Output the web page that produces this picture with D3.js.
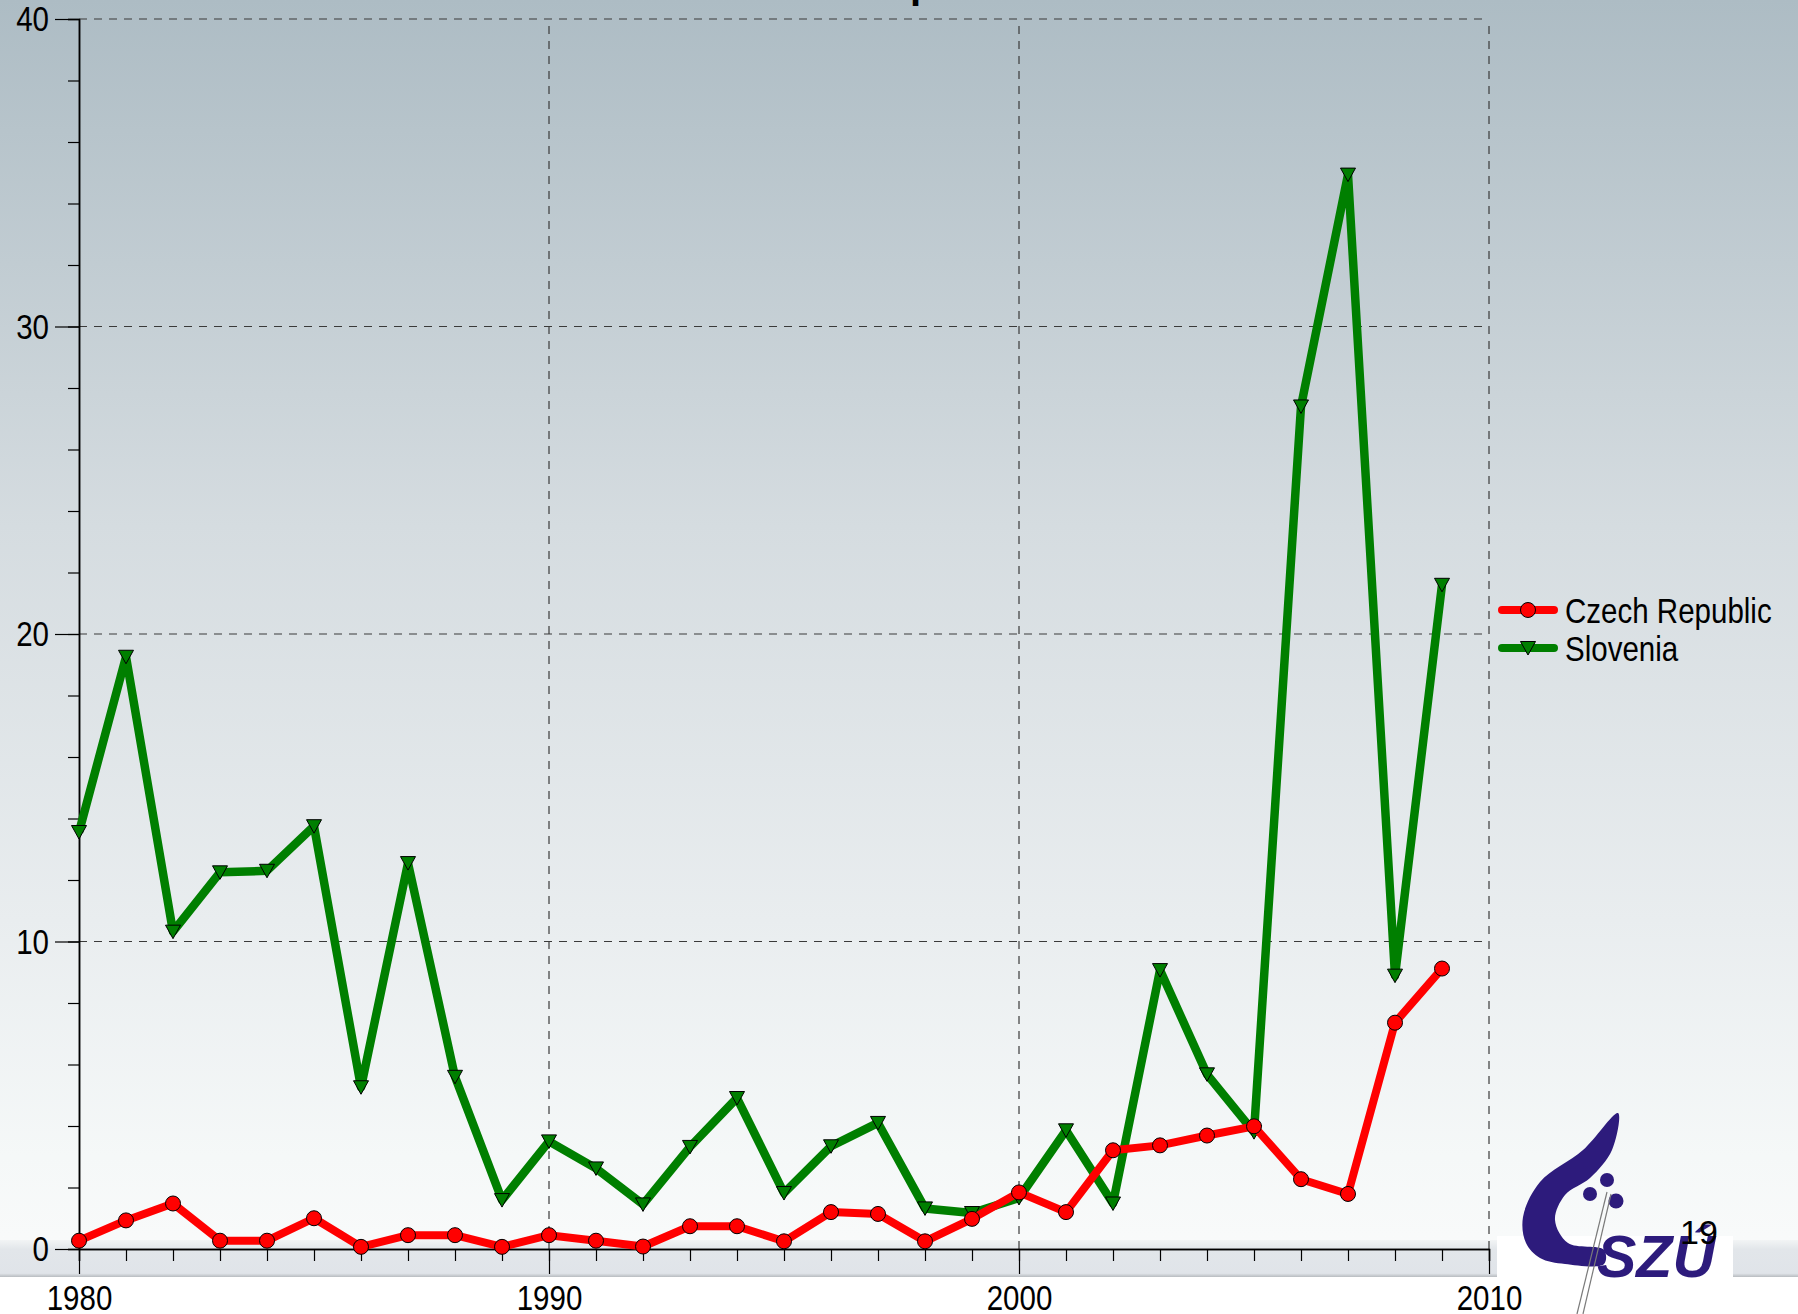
<!DOCTYPE html>
<html>
<head>
<meta charset="utf-8">
<script src="https://cdn.jsdelivr.net/npm/d3@7"></script>
<style>
  body { margin: 0; padding: 0; overflow: hidden; }
  svg { display: block; }
</style>
</head>
<body>
<div id="chart"></div>
<script>
// data
var years = d3.range(1980, 2010);
var czech = [0.27, 0.93, 1.48, 0.27, 0.27, 1.0, 0.07, 0.45, 0.45, 0.07,
             0.45, 0.27, 0.08, 0.74, 0.74, 0.25, 1.2, 1.14, 0.25, 0.98,
             1.84, 1.2, 3.21, 3.37, 3.69, 3.99, 2.27, 1.79, 7.36, 9.12];
var slovenia = [13.56, 19.26, 10.32, 12.25, 12.3, 13.75, 5.26, 12.55, 5.6, 1.59,
                3.5, 2.62, 1.45, 3.32, 4.91, 1.82, 3.34, 4.1, 1.32, 1.17,
                1.66, 3.86, 1.48, 9.07, 5.68, 3.8, 27.4, 34.94, 8.89, 21.6];
var seriesNames = ["Czech Republic", "Slovenia"];
var xTicks = [1980, 1990, 2000, 2010];
var yTicks = [0, 10, 20, 30, 40];

var W = 1798, H = 1314;
var font = "'Liberation Sans', Arial, sans-serif";
var squeeze = 0.82; // the slide uses a narrow face

var svg = d3.select("#chart").append("svg")
  .attr("width", W)
  .attr("height", H);

var defs = svg.append("defs");
var bg = defs.append("linearGradient").attr("id", "bg")
  .attr("x1", 0).attr("y1", 0).attr("x2", 0).attr("y2", 1);
bg.append("stop").attr("offset", "0%").attr("stop-color", "#adbcc4");
bg.append("stop").attr("offset", "40%").attr("stop-color", "#d5dce0");
bg.append("stop").attr("offset", "70%").attr("stop-color", "#e9edef");
bg.append("stop").attr("offset", "88%").attr("stop-color", "#f5f8f8");
bg.append("stop").attr("offset", "100%").attr("stop-color", "#fbfcfc");

var band = defs.append("linearGradient").attr("id", "band")
  .attr("x1", 0).attr("y1", 0).attr("x2", 0).attr("y2", 1);
band.append("stop").attr("offset", "0%").attr("stop-color", "#f2f4f5");
band.append("stop").attr("offset", "25%").attr("stop-color", "#e2e6ea");
band.append("stop").attr("offset", "90%").attr("stop-color", "#e0e4e9");
band.append("stop").attr("offset", "100%").attr("stop-color", "#b8bcc0");

// slide background
svg.append("rect").attr("width", W).attr("height", H).attr("fill", "url(#bg)");
svg.append("rect").attr("x", 0).attr("y", 1240).attr("width", W).attr("height", 37)
  .attr("fill", "url(#band)");
svg.append("rect").attr("x", 0).attr("y", 1277).attr("width", W).attr("height", 37)
  .attr("fill", "#ffffff");

// SZU logo in the corner (under the chart)
var logo = svg.append("g");
logo.append("rect")
  .attr("x", 1497).attr("y", 1236).attr("width", 236).attr("height", 78)
  .attr("fill", "#ffffff");
var ink = "#2d1b7c";
var flame = [[1618, 1113], [1583, 1150], [1540, 1182], [1523, 1217], [1526, 1243],
             [1540, 1258], [1565, 1264], [1604, 1264], [1604, 1250], [1568, 1243],
             [1555, 1220], [1565, 1195], [1590, 1178], [1612, 1150]];
logo.append("path")
  .attr("d", d3.line().curve(d3.curveCatmullRomClosed.alpha(0.5))(flame))
  .attr("fill", ink);
[[1607, 1180, 7], [1590, 1194, 7], [1616, 1201, 7.5]].forEach(function(c) {
  logo.append("circle").attr("cx", c[0]).attr("cy", c[1]).attr("r", c[2]).attr("fill", ink);
});
logo.append("line").attr("x1", 1607).attr("y1", 1192).attr("x2", 1577).attr("y2", 1314)
  .attr("stroke", "#7a7a7a").attr("stroke-width", 1.2);
logo.append("line").attr("x1", 1611).attr("y1", 1194).attr("x2", 1583).attr("y2", 1314)
  .attr("stroke", "#7a7a7a").attr("stroke-width", 1.2);
logo.append("text")
  .attr("x", 1597).attr("y", 1277)
  .attr("font-family", font)
  .attr("font-weight", "bold")
  .attr("font-style", "italic")
  .attr("font-size", "59px")
  .attr("fill", ink)
  .text("SZÚ");

// page number
svg.append("text")
  .attr("x", 1680).attr("y", 1244)
  .attr("font-family", font)
  .attr("font-size", "34px")
  .text("19");

// bit of the cut-off title
svg.append("text")
  .attr("x", 910).attr("y", -2)
  .attr("font-family", font)
  .attr("font-weight", "bold")
  .attr("font-size", "40px")
  .text("p");

var x = d3.scaleLinear().domain([1980, 2010]).range([79, 1489]);
var y = d3.scaleLinear().domain([0, 40]).range([1249, 19]);

// grid
var grid = svg.append("g")
  .attr("stroke", "#3a3a3a")
  .attr("stroke-width", 1.2)
  .attr("stroke-dasharray", "8,7");
grid.selectAll("line.h")
  .data(yTicks.filter(function(d) { return d > 0; }))
  .enter().append("line")
  .attr("x1", x(1980)).attr("x2", x(2010))
  .attr("y1", function(d) { return y(d); })
  .attr("y2", function(d) { return y(d); });
grid.selectAll("line.v")
  .data(xTicks.filter(function(d) { return d > 1980; }))
  .enter().append("line")
  .attr("y1", y(0)).attr("y2", y(40))
  .attr("x1", function(d) { return x(d); })
  .attr("x2", function(d) { return x(d); });

// axes
function styleAxis(g) {
  g.selectAll("path.domain").attr("stroke", "#000").attr("stroke-width", 1.5);
  g.selectAll(".tick line").attr("stroke", "#000").attr("stroke-width", 1.2);
  g.selectAll(".tick text")
    .attr("font-family", font)
    .attr("font-size", "36px")
    .attr("fill", "#000")
    .attr("transform", "scale(" + squeeze + ",1)");
}

svg.append("g")
  .attr("transform", "translate(" + x(1980) + ",0)")
  .call(d3.axisLeft(y).tickValues(d3.range(0, 41, 2)).tickSize(11).tickFormat(""))
  .call(styleAxis);
svg.append("g")
  .attr("transform", "translate(" + x(1980) + ",0)")
  .call(d3.axisLeft(y).tickValues(yTicks).tickSize(24).tickSizeOuter(0).tickPadding(6)
        .tickFormat(d3.format("d")))
  .call(styleAxis)
  .selectAll(".tick text").attr("x", -30 / squeeze);

svg.append("g")
  .attr("transform", "translate(0," + y(0) + ")")
  .call(d3.axisBottom(x).tickValues(d3.range(1980, 2011)).tickSize(12).tickFormat(""))
  .call(styleAxis);
svg.append("g")
  .attr("transform", "translate(0," + y(0) + ")")
  .call(d3.axisBottom(x).tickValues(xTicks).tickSize(25).tickSizeOuter(0).tickPadding(10)
        .tickFormat(d3.format("d")))
  .call(styleAxis);

// series
var line = d3.line()
  .x(function(d) { return x(d.year); })
  .y(function(d) { return y(d.value); });

function pack(vals) {
  return years.map(function(yr, i) { return { year: yr, value: vals[i] }; });
}

var tri = "M-7.5,-6.5L7.5,-6.5L0,7Z";

var sl = pack(slovenia);
svg.append("path").datum(sl)
  .attr("d", line)
  .attr("fill", "none")
  .attr("stroke", "#007f00")
  .attr("stroke-width", 8.5)
  .attr("stroke-linejoin", "round");
svg.selectAll("path.tri")
  .data(sl)
  .enter().append("path")
  .attr("class", "tri")
  .attr("d", tri)
  .attr("transform", function(d) { return "translate(" + x(d.year) + "," + y(d.value) + ")"; })
  .attr("fill", "#007f00")
  .attr("stroke", "#000")
  .attr("stroke-width", 1);

var cz = pack(czech);
svg.append("path").datum(cz)
  .attr("d", line)
  .attr("fill", "none")
  .attr("stroke", "#ff0000")
  .attr("stroke-width", 8)
  .attr("stroke-linejoin", "round");
svg.selectAll("circle.dot")
  .data(cz)
  .enter().append("circle")
  .attr("class", "dot")
  .attr("cx", function(d) { return x(d.year); })
  .attr("cy", function(d) { return y(d.value); })
  .attr("r", 7.5)
  .attr("fill", "#ff0000")
  .attr("stroke", "#000")
  .attr("stroke-width", 1);

// legend
var legend = svg.append("g");
var legY = [610, 648];
var legColors = ["#ff0000", "#007f00"];
seriesNames.forEach(function(name, i) {
  legend.append("line")
    .attr("x1", 1502).attr("x2", 1554)
    .attr("y1", legY[i]).attr("y2", legY[i])
    .attr("stroke", legColors[i])
    .attr("stroke-width", 8)
    .attr("stroke-linecap", "round");
  if (i === 0) {
    legend.append("circle")
      .attr("cx", 1528).attr("cy", legY[i]).attr("r", 7.5)
      .attr("fill", legColors[i]).attr("stroke", "#000");
  } else {
    legend.append("path")
      .attr("d", tri)
      .attr("transform", "translate(1528," + legY[i] + ")")
      .attr("fill", legColors[i]).attr("stroke", "#000");
  }
  legend.append("text")
    .attr("transform", "translate(1565," + (legY[i] + 13) + ") scale(" + squeeze + ",1)")
    .attr("font-family", font)
    .attr("font-size", "36px")
    .text(name);
});
</script>
</body>
</html>
